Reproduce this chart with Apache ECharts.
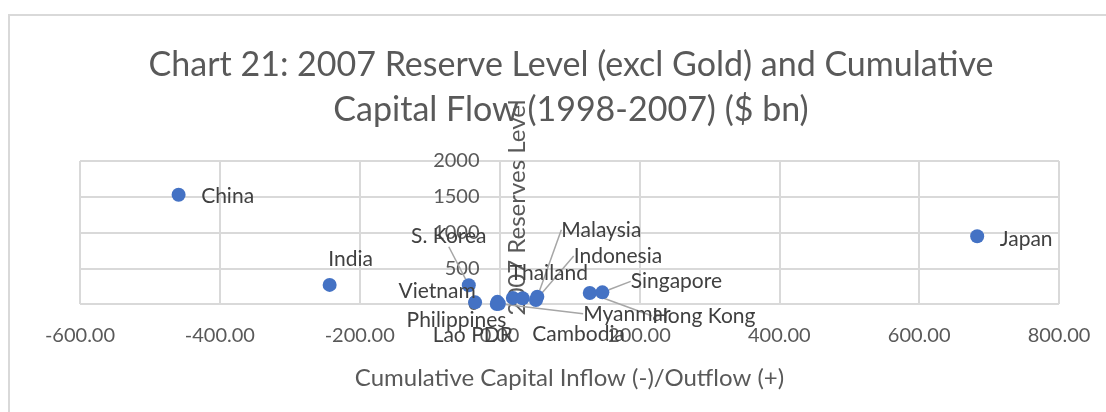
<!DOCTYPE html>
<html>
<head>
<meta charset="utf-8">
<script src="https://cdn.jsdelivr.net/npm/echarts@6/dist/echarts.min.js"></script>
<style>
  html, body { margin: 0; padding: 0; background: #fff; overflow: hidden; }
  #frame {
    position: absolute; left: 8px; top: 14px; width: 1200px; height: 500px;
    border-left: 2px solid #d9d9d9; border-top: 2px solid #d9d9d9;
  }
  #chart { position: absolute; left: 0; top: 0; width: 1106px; height: 412px; }
</style>
</head>
<body>
<div id="frame"></div>
<div id="chart"></div>
<script>
// 2007 reserves (excl gold) vs cumulative capital flow 1998-2007, $ bn
const countries = ["China", "Japan", "India", "S. Korea", "Vietnam", "Philippines", "Lao PDR",
  "Thailand", "Cambodia", "Myanmar", "Malaysia", "Indonesia", "Singapore", "Hong Kong"];
const capitalFlow = [-459, 683, -243, -44, -35, -3, -4, 19, 33, -1, 54, 52, 147, 129];
const reserves = [1528, 948, 267, 262, 23, 30, 1, 85, 80, 3, 101, 55, 163, 153];

const xTicks = [-600, -400, -200, 0, 200, 400, 600, 800];
const yTicks = [0, 500, 1000, 1500, 2000];

// label centre offset from its point, and whether a leader line is drawn
const labelMoves = {
  "China": [49, 1],
  "Japan": [49, 3],
  "India": [21, -26],
  "S. Korea": [-20, -49],
  "Vietnam": [-38, -11],
  "Philippines": [-41, 18],
  "Lao PDR": [-24, 31],
  "Thailand": [36, -25],
  "Cambodia": [56, 36],
  "Myanmar": [128, 10],
  "Malaysia": [64, -67],
  "Indonesia": [82, -44],
  "Singapore": [74, -11],
  "Hong Kong": [114, 23]
};
const leaderLines = ["S. Korea", "Myanmar", "Malaysia", "Indonesia", "Singapore", "Hong Kong"];

const points = countries.map((name, i) => ({
  name: name,
  value: [capitalFlow[i], reserves[i]],
  labelLine: { show: leaderLines.includes(name) }
}));

const chart = echarts.init(document.getElementById("chart"));
const font = "Lato";
const textColor = "#595959";
const gridLeft = 80;

chart.setOption({
  animation: false,
  textStyle: { fontFamily: font },
  title: {
    text: "Chart 21: 2007 Reserve Level (excl Gold) and Cumulative\nCapital Flow (1998-2007) ($ bn)",
    left: 566,
    top: 38,
    textAlign: "center",
    textStyle: {
      fontFamily: font,
      fontSize: 34,
      fontWeight: "normal",
      color: textColor,
      lineHeight: 45
    }
  },
  grid: { left: gridLeft, right: 47, top: 161, bottom: 108 },
  xAxis: {
    type: "value",
    min: -600,
    max: 800,
    interval: 200,
    name: "Cumulative Capital Inflow (-)/Outflow (+)",
    nameLocation: "middle",
    nameGap: 62,
    nameTextStyle: { fontFamily: font, fontSize: 24, color: textColor },
    axisLine: { show: false, onZero: false },
    axisTick: { show: false },
    axisLabel: {
      fontFamily: font,
      fontSize: 20,
      color: textColor,
      margin: 22,
      formatter: v => xTicks.includes(v) ? v.toFixed(2) : ""
    },
    splitLine: { show: true, lineStyle: { color: "#d9d9d9", width: 2 } }
  },
  yAxis: {
    type: "value",
    min: 0,
    max: 2000,
    interval: 500,
    name: "2007 Reserves Level",
    nameLocation: "middle",
    nameGap: -30,
    nameMoveOverlap: false,
    nameTextStyle: { fontFamily: font, fontSize: 24, color: textColor, padding: [0, 0, 0, 50] },
    axisLine: { show: true, onZero: false, lineStyle: { color: "#d9d9d9", width: 2 } },
    axisTick: { show: false },
    axisLabel: {
      fontFamily: font,
      fontSize: 20,
      color: textColor,
      margin: 20,
      formatter: v => yTicks.includes(v) ? String(v) : ""
    },
    splitLine: { show: true, lineStyle: { color: "#d9d9d9", width: 2 } }
  },
  series: [{
    type: "scatter",
    symbolSize: 14,
    itemStyle: { color: "#4472c4", opacity: 1 },
    data: points,
    label: {
      show: true,
      position: "inside",
      formatter: "{b}",
      fontFamily: font,
      fontSize: 21,
      color: "#404040"
    },
    labelLine: {
      lineStyle: { color: "#a6a6a6", width: 1.5 }
    },
    labelLayout: function (params) {
      const m = labelMoves[countries[params.dataIndex]] || [0, 0];
      return { dx: m[0], dy: m[1] };
    }
  }]
});

// put the y axis on x = 0, the way the original crosses
const zeroX = chart.convertToPixel({ xAxisIndex: 0 }, 0);
chart.setOption({ yAxis: { offset: -(zeroX - gridLeft) } });
</script>
</body>
</html>
